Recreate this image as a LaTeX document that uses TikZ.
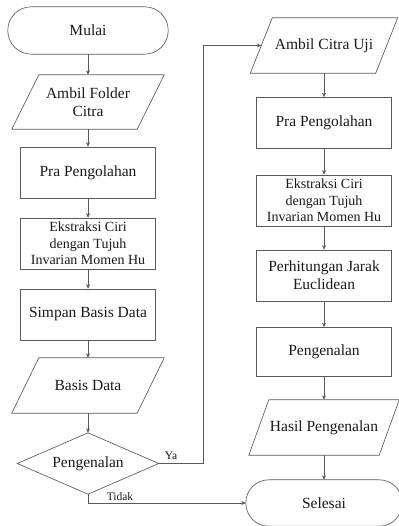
\documentclass[tikz,border=0pt]{standalone}
\usepackage{fontspec}
\setmainfont{Liberation Serif}
\usetikzlibrary{arrows.meta}
\begin{document}
\begin{tikzpicture}[x=1pt,y=-1pt,
  box/.style={draw=black!65, line width=0.65pt, minimum width=135pt, minimum height=51pt, inner sep=0pt, align=center, text=black!90, font=\fontsize{15.5}{18.3}\selectfont},
  small/.style={font=\fontsize{14}{16.7}\selectfont},
  ghost/.style={minimum height=55pt, inner sep=0pt, align=center, text=black!90, font=\fontsize{15.5}{18.3}\selectfont},
  shp/.style={draw=black!65, line width=0.65pt},
  arr/.style={draw=black!65, line width=0.65pt, -{Stealth[length=4.5pt,width=4pt]}},
  lbl/.style={font=\fontsize{11.5}{13}\selectfont, inner sep=1pt, text=black!90}
]
\useasboundingbox (0,0) rectangle (398,526);

% left column
\node[ghost, minimum width=160pt, minimum height=47pt] (start) at (88,30.5) {Mulai};
\draw[shp, rounded corners=23.5pt] (start.south west) rectangle (start.north east);

\node[ghost, minimum width=152pt, minimum height=54pt] (fold) at (88,102) {Ambil Folder\\Citra};
\draw[shp] (fold.south west) -- ([xshift=27pt]fold.north west) -- (fold.north east) -- ([xshift=-27pt]fold.south east) -- cycle;

\node[box] (pra1) at (88,172.5) {Pra Pengolahan};
\node[box, small] (eks1) at (88,243.5) {Ekstraksi Ciri\\dengan Tujuh\\Invarian Momen Hu};
\node[box] (simpan) at (88,314.5) {Simpan Basis Data};

\node[ghost, minimum width=152pt] (bd) at (88,385.5) {Basis Data};
\draw[shp] (bd.south west) -- ([xshift=27pt]bd.north west) -- (bd.north east) -- ([xshift=-27pt]bd.south east) -- cycle;

\node[ghost, minimum width=141pt, minimum height=61pt] (dec) at (88,463.5) {Pengenalan};
\draw[shp] (dec.west) -- (dec.north) -- (dec.east) -- (dec.south) -- cycle;

% right column
\node[ghost, minimum width=147pt] (uji) at (324,45.5) {Ambil Citra Uji};
\draw[shp] (uji.south west) -- ([xshift=22pt]uji.north west) -- (uji.north east) -- ([xshift=-22pt]uji.south east) -- cycle;
\coordinate (ujiin) at ([xshift=11pt]uji.west);

\node[box] (pra2) at (324,123) {Pra Pengolahan};
\node[box, small] (eks2) at (324,200.5) {Ekstraksi Ciri\\dengan Tujuh\\Invarian Momen Hu};
\node[box] (hit) at (324,275.5) {Perhitungan Jarak\\Euclidean};
\node[box, minimum height=49pt] (kenal) at (324,352) {Pengenalan};

\node[ghost, minimum width=150pt] (hasil) at (324,427.5) {Hasil Pengenalan};
\draw[shp] (hasil.south west) -- ([xshift=20pt]hasil.north west) -- (hasil.north east) -- ([xshift=-20pt]hasil.south east) -- cycle;

\node[ghost, minimum width=156pt, minimum height=46pt] (end) at (324,503) {Selesai};
\draw[shp, rounded corners=23pt] (end.south west) rectangle (end.north east);

% connectors
\draw[arr] (start) -- (fold);
\draw[arr] (fold) -- (pra1);
\draw[arr] (pra1) -- (eks1);
\draw[arr] (eks1) -- (simpan);
\draw[arr] (simpan) -- (bd);
\draw[arr] (bd) -- (dec);
\draw[arr] (uji) -- (pra2);
\draw[arr] (pra2) -- (eks2);
\draw[arr] (eks2) -- (hit);
\draw[arr] (hit) -- (kenal);
\draw[arr] (kenal) -- (hasil);
\draw[arr] (hasil) -- (end);

\coordinate (yaturn) at ([xshift=45pt]dec.east);
\draw[arr] (dec.east) -- (yaturn) |- (ujiin);
\draw[arr] (dec.south) |- (end.west);

\node[lbl] (ya) at (171,456) {Ya};
\node[lbl] (tidak) at (120,496.5) {Tidak};
\end{tikzpicture}
\end{document}
